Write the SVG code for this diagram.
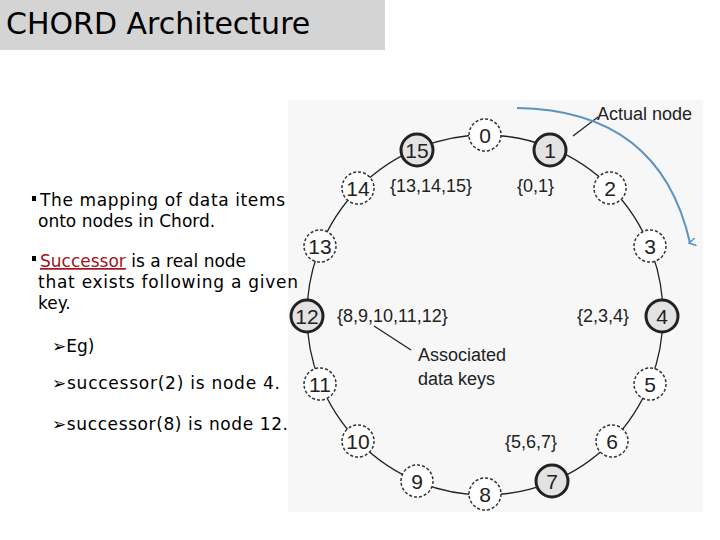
<svg xmlns="http://www.w3.org/2000/svg" width="720" height="540" viewBox="0 0 720 540">
<style>
.t{font-family:"Liberation Sans",Arial,sans-serif;font-size:18px;fill:#222}
.n{font-family:"Liberation Sans",Arial,sans-serif;font-size:21px;fill:#222;text-anchor:middle}
.v circle{fill:#fff;stroke:#333;stroke-width:1.5;stroke-dasharray:3 2}
.r circle{fill:#e3e3e3;stroke:#222;stroke-width:3}
.b{font-family:"Comic Sans MS","DejaVu Sans",sans-serif;font-size:17px;fill:#000}
</style>
<defs><marker id="ah" markerWidth="8" markerHeight="8" refX="4" refY="6" orient="auto" markerUnits="userSpaceOnUse"><path d="M0,0 L4,7 L8,0" fill="none" stroke="#5b93c2" stroke-width="1.5"/></marker></defs>
<rect width="720" height="540" fill="#fff"/>
<rect x="0" y="0" width="385" height="50" fill="#d4d4d4"/>
<text x="6" y="34" font-family="'Comic Sans MS','DejaVu Sans',sans-serif" font-size="30" fill="#000">CHORD Architecture</text>
<rect x="288" y="100" width="415" height="412" fill="#f7f7f7"/>
<g id="bullets" class="b">
<rect x="32" y="196" width="4" height="5" fill="#000"/>
<text x="40" y="206" textLength="245">The mapping of data items</text>
<text x="38" y="227">onto nodes in Chord.</text>
<rect x="32" y="256" width="4" height="5" fill="#000"/>
<text x="40" y="267"><tspan fill="#a0141e" text-decoration="underline">Successor</tspan> is a real node</text>
<text x="38" y="288" textLength="260">that exists following a given</text>
<text x="38" y="309">key.</text>
<text x="52" y="352">➢Eg)</text>
<text x="52" y="389" textLength="228">➢successor(2) is node 4.</text>
<text x="52" y="430" textLength="236">➢successor(8) is node 12.</text>
</g>
<g id="connectors" fill="none" stroke="#222" stroke-width="1.3">
<ellipse cx="485" cy="315" rx="178" ry="180"/>
<line x1="573" y1="136" x2="598" y2="117"/>
<line x1="411" y1="350" x2="374" y2="326"/>
<path d="M517,108 Q660,110 690,243" stroke="#5b93c2" stroke-width="2" marker-end="url(#ah)"/>
</g>
<g id="n0" class="v"><circle cx="485" cy="135" r="16"/><text class="n" x="485" y="143">0</text></g>
<g id="n1" class="r"><circle cx="550" cy="150" r="16"/><text class="n" x="550" y="158">1</text></g>
<g id="n2" class="v"><circle cx="610" cy="188" r="16"/><text class="n" x="610" y="196">2</text></g>
<g id="n3" class="v"><circle cx="650" cy="246" r="16"/><text class="n" x="650" y="254">3</text></g>
<g id="n4" class="r"><circle cx="662" cy="316" r="16"/><text class="n" x="662" y="324">4</text></g>
<g id="n5" class="v"><circle cx="650" cy="384" r="16"/><text class="n" x="650" y="392">5</text></g>
<g id="n6" class="v"><circle cx="612" cy="441" r="16"/><text class="n" x="612" y="449">6</text></g>
<g id="n7" class="r"><circle cx="552" cy="481" r="16"/><text class="n" x="552" y="489">7</text></g>
<g id="n8" class="v"><circle cx="485" cy="494" r="16"/><text class="n" x="485" y="502">8</text></g>
<g id="n9" class="v"><circle cx="417" cy="481" r="16"/><text class="n" x="417" y="489">9</text></g>
<g id="n10" class="v"><circle cx="358" cy="441" r="16"/><text class="n" x="358" y="449">10</text></g>
<g id="n11" class="v"><circle cx="320" cy="384" r="16"/><text class="n" x="320" y="392">11</text></g>
<g id="n12" class="r"><circle cx="307" cy="316" r="16"/><text class="n" x="307" y="324">12</text></g>
<g id="n13" class="v"><circle cx="320" cy="246" r="16"/><text class="n" x="320" y="254">13</text></g>
<g id="n14" class="v"><circle cx="358" cy="188" r="16"/><text class="n" x="358" y="196">14</text></g>
<g id="n15" class="r"><circle cx="417" cy="150" r="16"/><text class="n" x="417" y="158">15</text></g>
<g id="labels">
<text class="t" x="597" y="120">Actual node</text>
<text class="t" x="390" y="192">{13,14,15}</text>
<text class="t" x="517" y="192">{0,1}</text>
<text class="t" x="337" y="322">{8,9,10,11,12}</text>
<text class="t" x="577" y="322">{2,3,4}</text>
<text class="t" x="418" y="361">Associated</text>
<text class="t" x="418" y="385">data keys</text>
<text class="t" x="505" y="448">{5,6,7}</text>
</g>
</svg>
